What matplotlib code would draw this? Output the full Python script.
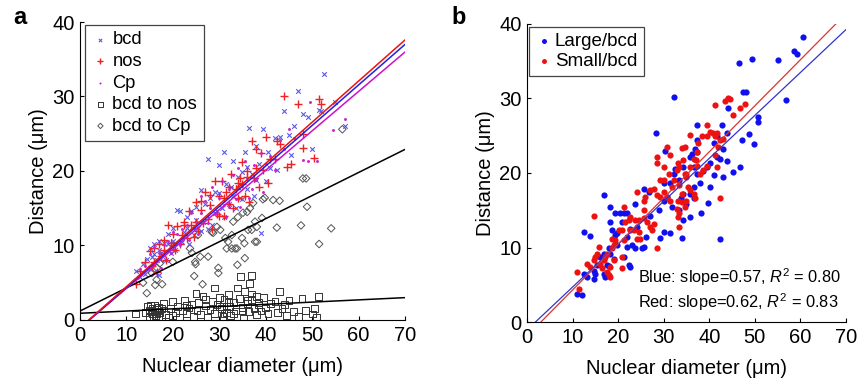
import matplotlib
matplotlib.use('Agg')
import matplotlib.pyplot as plt
import numpy as np

plt.rcParams['font.family'] = ['Liberation Sans', 'DejaVu Sans']
plt.rcParams['mathtext.fontset'] = 'custom'
plt.rcParams['mathtext.it'] = 'Liberation Sans:italic'
plt.rcParams['mathtext.rm'] = 'Liberation Sans'

# ---- panel a data ----
bcd_pts = [(12, 6.6), (13, 5.8), (13.5, 7.5), (14, 6.2), (14.5, 8.2), (15, 9.6), (15, 6.8), (15.5, 8.4),
           (16, 10.2), (16, 6.4), (16.5, 8.0), (17, 6.1), (17, 10.6), (17.5, 9.0), (18, 10.4), (18.5, 8.0),
           (19, 11.6), (19.5, 9.0), (20, 12.4), (20.5, 9.4), (21, 14.8), (21.5, 14.6), (22, 10.5), (22.5, 11.8),
           (23, 12.4), (23.5, 10.2), (24, 14.6), (24.5, 11.4), (25, 15.2), (25.5, 12.4), (26, 17.4), (26.5, 13.2),
           (27, 15.6), (27.5, 12.2), (28, 16.4), (28.5, 12.8), (29, 17.2), (29.5, 14.6), (30, 20.8), (30.5, 15.0),
           (31, 22.6), (31, 13.8), (31.5, 18.2), (32, 15.6), (32.5, 17.8), (33, 21.4), (33.5, 15.0), (34, 19.2),
           (34.5, 16.4), (35, 16.2), (35.5, 22.6), (36, 17.6), (36.5, 25.8), (37, 19.6), (37.5, 16.6), (38, 18.8),
           (38.5, 21.0), (39, 11.7), (39.5, 25.7), (40, 18.6), (40.5, 22.6), (41, 20.4), (42, 24.4), (42.5, 20.2),
           (43, 24.5), (44, 28.1), (45, 24.8), (45.5, 22.2), (46, 26), (47, 30.8), (48, 27.6), (49, 27.2),
           (50, 23), (51.5, 28.2), (52, 28), (52.5, 33), (55, 29.3), (57, 26), (17, 9.4), (16, 8.8), (27.5, 21.6),
           (34, 17.8), (20, 10.6), (29, 14.4), (36, 20.6), (38, 23.4), (33, 16.6), (26, 12.0), (23, 13.8),
           (19, 10.2), (30, 17.0), (25, 13.4), (35, 19.8)]
nos_pts = [(12, 4.8), (13, 6.6), (14, 7.8), (15, 9.2), (15.5, 7.2), (16, 9.6), (16, 7.8), (16.5, 6.4),
           (17, 10.2), (17.5, 8.6), (18, 10.8), (18.5, 8.0), (19, 12.8), (19.5, 10.4), (20, 11.6), (20.5, 9.4),
           (21, 12.6), (21.5, 10.2), (22, 11.4), (22.5, 13.2), (23, 11.0), (23.5, 14.6), (24, 12.8), (24.5, 11.2),
           (25, 15.8), (25.5, 12.0), (26, 14.8), (26.5, 13.0), (27, 17.2), (27.5, 13.6), (28, 15.4), (28.5, 12.2),
           (29, 18.6), (29.5, 14.2), (30, 16.6), (30.5, 18.6), (31, 14.0), (31.5, 17.2), (32, 15.6), (32.5, 19.6),
           (33, 15.0), (33.5, 17.6), (34, 16.4), (34.5, 19.0), (35, 21.2), (35.5, 16.6), (36, 20.0), (36.5, 15.8),
           (37, 24), (37.5, 19.0), (38, 23.0), (38.5, 17.8), (39, 22.4), (39.5, 20.2), (40, 24.6), (40.5, 18.4),
           (41, 21.6), (42, 21.6), (43, 23.6), (44, 30.1), (44.5, 20.5), (45.5, 21), (47, 29), (48, 23.1),
           (48, 25), (50.5, 21.8), (51.5, 29.7), (52, 29), (22.5, 12.8), (36, 19.2), (30, 14.0), (34, 18.4),
           (28, 16.8), (25, 13.2), (20, 10.0), (38, 20.4), (32, 17.8), (35, 18.2), (18, 9.4), (42.5, 24.0),
           (26, 16.0), (31, 16.4)]
cp_pts = [(13, 6.8), (14, 7.2), (15, 8.8), (15.5, 7.4), (16, 9.8), (16.5, 8.0), (17, 9.0), (17.5, 7.0),
          (18, 10.0), (19, 10.6), (19.5, 9.0), (20, 11.8), (21, 11.6), (21.5, 10.0), (22, 12.2), (23, 12.8),
          (23.5, 10.8), (24, 14.4), (24.5, 12.4), (25, 13.2), (25.5, 11.6), (26, 14.4), (27, 16.0), (27.5, 13.0),
          (28, 15.0), (28.5, 17.8), (29, 14.2), (30, 16.4), (30.5, 18.6), (31, 15.4), (31.5, 13.8), (32, 17.6),
          (33, 19.4), (33.5, 16.2), (34, 20.4), (34.5, 15.2), (35, 18.0), (35.5, 21.4), (36, 19.0), (36.5, 16.4),
          (37, 17.6), (37.5, 20.8), (38, 18.8), (39, 22.4), (39.5, 17.2), (40, 21.0), (41, 22.0), (42, 20.2),
          (43, 24.2), (44, 23.0), (45, 25.6), (46, 24.4), (48, 21.5), (49, 21.4), (49.5, 29.3), (51, 21.3),
          (54.5, 25.5), (57, 27), (26, 16.6), (32, 15.2)]
bcd_nos_pts = [(14, 1.0), (14.5, 1.8), (15, 0.5), (15, 1.3), (15.2, 2.0), (15.5, 0.9), (15.5, 1.6),
               (15.8, 0.3), (16, 1.1), (16, 1.9), (16.2, 0.6), (16.5, 1.4), (16.5, 0.8), (16.8, 1.2),
               (17, 1.7), (17, 0.4), (17.2, 1.0), (17.5, 1.5), (18, 2.2), (18.5, 0.7),
               (12, 0.8), (19, 0.4), (19.5, 1.5), (20, 2.5), (20.5, 1.0), (21, 1.8), (21.5, 0.3), (22, 1.2),
               (22.5, 2.6), (23, 0.9), (23.5, 1.6), (24, 2.1), (24.5, 0.5), (25, 3.6), (25.2, 1.3),
               (25.5, 2.3), (26, 0.7), (26.5, 3.2), (27, 1.9), (27.5, 0.4), (28, 1.4), (28.5, 2.5),
               (29, 0.9), (29.5, 2.1), (30, 3.0), (30.5, 1.5), (30.8, 0.5), (31, 2.7), (31.5, 1.0),
               (32, 3.4), (32.3, 1.8), (32.5, 0.6), (33, 2.3), (33.5, 1.2), (34, 4.3), (34.3, 2.9),
               (34.5, 5.8), (35, 1.7), (35.2, 0.2), (35.5, 3.8), (36, 2.2), (36.3, 1.1), (36.5, 4.9),
               (37, 6.0), (37, 2.8), (37.5, 1.5), (38, 3.1), (38, 0.7), (38.5, 2.0), (39, 1.2), (39.5, 3.0),
               (40, 1.6), (40.5, 0.9), (41, 2.2), (42, 2.5), (42.5, 1.0), (43, 3.8), (43.5, 1.5), (44, 2.1),
               (44.5, 0.6), (45, 2.6), (46, 1.1), (47, 0.5), (47.8, 2.9), (48.5, 1.3), (50, 0.8), (50.5, 1.5),
               (51.3, 3.2), (51, 0.4), (29, 4.3), (30, 1.8), (32, 2.4), (33, 0.9), (36, 2.6), (37, 3.5),
               (38.5, 2.4), (20, 0.6), (23, 1.9), (27, 2.8), (31, 0.9), (35, 1.2)]
bcd_cp_pts = [(56.5, 25.6), (48.0, 19.0), (48.7, 19.0), (48.9, 15.2), (47.6, 12.7), (54.1, 12.3),
              (51.5, 10.2), (42.4, 12.4), (41.6, 16.1), (43.0, 16.0), (39.4, 16.2), (39.2, 13.7),
              (37.7, 13.2), (37.0, 12.1), (37.7, 10.5), (35.4, 10.3), (35.5, 8.3), (33.9, 7.4), (33.4, 9.6),
              (31.6, 9.6), (31.3, 11.0), (30.2, 12.1), (28.7, 11.7), (29.8, 7.0), (29.8, 6.3), (24.8, 7.8),
              (24.6, 5.9), (26.4, 4.8), (24.9, 7.5), (25.9, 8.5), (27.6, 8.5), (23.7, 9.6), (24.1, 9.0),
              (36.0, 14.5), (36.2, 12.1), (37.3, 15.7), (20.0, 7.8), (14.4, 3.6), (16.2, 4.7), (17.7, 4.8),
              (15.5, 6.3), (16.6, 7.0), (17.2, 7.6), (16.5, 5.4), (13.6, 5.0), (17.9, 8.3), (32.7, 9.6),
              (33.8, 9.6), (38.1, 10.5), (31.9, 10.5), (38.1, 12.5), (32.7, 11.4), (34.9, 11.0), (33.0, 13.2),
              (34.0, 13.8), (35.1, 14.4), (39.8, 16.4), (36.6, 15.0), (28.4, 11.8), (29.5, 12.5), (25.4, 11.4)]

# linear fits shown in panel a: (slope, intercept)
fit_bcd = (0.544, -1.09)
fit_nos = (0.552, -1.05)
fit_cp = (0.529, -1.06)
fit_bcd_cp = (0.310, 1.2)
fit_bcd_nos = (0.030, 0.9)

# ---- panel b data ----
large_pts = [(60.6, 38.2), (58.7, 36.3), (59.2, 35.9), (55.2, 35.2), (49.5, 35.3), (46.6, 34.8), (47.5, 30.9),
             (48.1, 30.9), (56.8, 29.8), (32.2, 30.2), (44.2, 28.7), (50.6, 27.5), (50.8, 26.9), (48.8, 25.2),
             (49.8, 23.9), (47.1, 24.4), (42.7, 26.4), (37.3, 26.4), (28.4, 25.4), (45.2, 20.2), (46.8, 20.8),
             (43.1, 19.5), (43.8, 21.6), (41.0, 19.7), (39.8, 16.0), (38.1, 14.6), (35.8, 14.1), (34.1, 11.3),
             (42.3, 11.1), (30.0, 12.1), (29.2, 11.3), (16.8, 17.0), (18.3, 15.4), (12.4, 12.1), (13.9, 11.6),
             (11.0, 3.8), (12.1, 3.7), (12.4, 6.4), (13.2, 6.1), (14.8, 5.8), (15.0, 6.5), (17.9, 7.5),
             (19.0, 8.5), (18.1, 9.9), (18.3, 9.2), (21.2, 8.7), (22.7, 7.4), (22.3, 7.6), (23.7, 9.9),
             (25.2, 9.9), (26.2, 11.4), (25.6, 10.1), (21.9, 11.4), (22.7, 12.5), (20.8, 13.4), (20.5, 14.6),
             (21.2, 14.6), (21.9, 14.6), (23.7, 15.8), (25.6, 17.9), (26.7, 17.5), (18.6, 12.3), (18.3, 13.4),
             (19.4, 11.7), (24.1, 12.8), (27.0, 14.3), (28.9, 15.0), (30.0, 16.3), (30.7, 16.8), (30.3, 22.9),
             (32.5, 20.6), (34.3, 20.8), (35.7, 22.2), (36.2, 22.6), (36.9, 23.2), (37.3, 22.8), (36.6, 20.8),
             (37.3, 19.9), (38.7, 20.3), (38.0, 18.7), (36.6, 18.1), (35.8, 17.2), (36.6, 16.6), (34.3, 17.2),
             (33.9, 16.6), (35.0, 15.9), (33.3, 19.0), (31.4, 18.6), (32.2, 19.9), (30.0, 18.6), (31.8, 15.5),
             (33.3, 15.0), (39.5, 20.8), (40.2, 21.3), (41.8, 22.2), (42.4, 21.9), (41.0, 24.0), (40.2, 18.1),
             (37.3, 24.4), (41.8, 24.9), (43.1, 23.2), (43.8, 25.3), (34.3, 13.7), (31.4, 11.9), (16.8, 6.5),
             (17.2, 6.1), (17.5, 7.6), (16.1, 8.7), (16.8, 9.2), (15.3, 7.6), (14.6, 6.9), (19.7, 10.3),
             (21.9, 10.1), (23.0, 10.3), (19.7, 11.9), (19.4, 14.6)]
small_pts = [(11.0, 6.7), (11.4, 4.5), (14.6, 14.3), (13.2, 7.8), (13.9, 7.4), (14.6, 8.3), (15.3, 9.2),
             (15.7, 10.1), (15.0, 8.7), (16.1, 7.8), (16.4, 7.2), (16.8, 8.3), (17.2, 8.7), (17.5, 6.7),
             (17.9, 6.3), (18.3, 7.4), (17.5, 9.2), (18.6, 9.9), (19.0, 10.3), (19.4, 11.0), (18.6, 11.2),
             (20.8, 7.2), (20.8, 8.7), (21.2, 11.0), (20.1, 12.3), (20.8, 12.3), (21.2, 15.4), (21.6, 13.4),
             (22.3, 13.7), (22.7, 14.1), (23.4, 12.3), (24.1, 11.2), (24.8, 11.2), (24.5, 12.1), (23.7, 13.7),
             (24.5, 13.7), (25.6, 13.9), (26.3, 13.4), (27.0, 12.8), (27.8, 13.2), (27.4, 12.3), (28.5, 9.9),
             (25.6, 16.3), (26.0, 16.8), (24.1, 17.5), (27.0, 17.7), (27.8, 17.9), (28.5, 17.0), (29.2, 16.8),
             (28.5, 22.2), (28.5, 21.3), (29.2, 19.0), (30.0, 19.0), (30.0, 17.5), (30.7, 16.8), (31.4, 16.3),
             (31.8, 18.1), (32.2, 19.0), (30.7, 23.5), (31.1, 19.9), (33.1, 21.3), (33.4, 20.8), (32.9, 20.4),
             (34.0, 23.3), (34.3, 21.7), (34.7, 19.9), (35.0, 19.5), (33.4, 18.4), (34.0, 17.2), (33.1, 16.3),
             (34.0, 16.1), (34.7, 15.5), (32.9, 15.2), (33.4, 14.6), (33.1, 14.1), (33.4, 12.8), (35.0, 16.3),
             (35.4, 18.1), (35.8, 17.7), (36.6, 21.9), (37.0, 21.7), (37.3, 21.0), (37.3, 22.8), (37.6, 24.0),
             (38.4, 24.9), (35.8, 25.1), (39.5, 24.9), (40.2, 25.5), (40.9, 25.3), (39.5, 26.4), (41.3, 24.9),
             (41.7, 25.3), (42.4, 24.4), (42.0, 23.5), (41.3, 22.4), (41.7, 20.8), (42.4, 16.6), (43.1, 24.6),
             (41.3, 29.1), (43.5, 29.6), (44.2, 30.0), (44.6, 29.9), (45.3, 27.8), (46.8, 28.7), (47.9, 29.3),
             (38.7, 20.4), (39.5, 21.0), (38.0, 19.9), (36.6, 17.2), (36.9, 16.6), (31.4, 22.4), (35.0, 19.9),
             (19.0, 8.3), (18.3, 6.0), (22.7, 12.3), (25.6, 15.0), (30.0, 20.8), (34.7, 23.5), (35.8, 20.8)]

fit_large = (0.575, -1.04)
fit_small = (0.617, -1.85)
stats_text = ['Blue: slope=0.57, $R^2$ = 0.80', 'Red: slope=0.62, $R^2$ = 0.83']

fig = plt.figure(figsize=(8.57, 3.84), dpi=100)
ax1 = fig.add_axes([0.0933, 0.1667, 0.3793, 0.776])
ax2 = fig.add_axes([0.615, 0.161, 0.372, 0.777])


def style_axes(ax):
    ax.set_xlim(0, 70)
    ax.set_ylim(0, 40)
    ax.set_xticks(range(0, 71, 10))
    ax.set_yticks(range(0, 41, 10))
    for s in ['top', 'right']:
        ax.spines[s].set_visible(False)
    ax.tick_params(direction='in', length=3, labelsize=14.5, width=0.8, pad=4)
    ax.set_xlabel('Nuclear diameter (μm)', fontsize=14.5, labelpad=9)
    ax.set_ylabel('Distance (μm)', fontsize=14.5, labelpad=3)


xx = np.linspace(0, 70, 200)

# panel a
p = np.array(bcd_pts)
ax1.scatter(p[:, 0], p[:, 1], marker='x', s=11, color='#5a5aee', linewidths=0.8, label='bcd', zorder=3)
p = np.array(nos_pts)
ax1.scatter(p[:, 0], p[:, 1], marker='+', s=30, color='#ee2222', linewidths=1.0, label='nos', zorder=3)
p = np.array(cp_pts)
ax1.scatter(p[:, 0], p[:, 1], marker='.', s=18, color='#cc22cc', linewidths=0, label='Cp', zorder=3)
p = np.array(bcd_nos_pts)
ax1.scatter(p[:, 0], p[:, 1], marker='s', s=24, facecolors='none', edgecolors='#333333',
            linewidths=0.7, label='bcd to nos', zorder=2)
p = np.array(bcd_cp_pts)
ax1.scatter(p[:, 0], p[:, 1], marker='D', s=15, facecolors='none', edgecolors='#555555',
            linewidths=0.7, label='bcd to Cp', zorder=2)

for (m, b), c in [(fit_bcd_nos, 'black'), (fit_bcd_cp, 'black'), (fit_cp, '#cc11cc'),
                  (fit_bcd, '#2222dd'), (fit_nos, '#ee1111')]:
    ax1.plot(xx, m * xx + b, color=c, lw=1.1, zorder=4)

style_axes(ax1)
leg = ax1.legend(loc='upper left', bbox_to_anchor=(0.015, 0.99), borderaxespad=0, fontsize=13.2,
                 markerscale=0.7, handletextpad=0.15, handlelength=1.0, borderpad=0.35, labelspacing=0.25,
                 fancybox=False, edgecolor='#444444', framealpha=1)
leg.get_frame().set_linewidth(0.9)
fig.text(0.016, 0.955, 'a', fontsize=17, fontweight='bold', va='center')

# panel b
p = np.array(large_pts)
ax2.scatter(p[:, 0], p[:, 1], marker='o', s=20, color='#1010ee', linewidths=0, label='Large/bcd', zorder=3)
p = np.array(small_pts)
ax2.scatter(p[:, 0], p[:, 1], marker='o', s=20, color='#ee1111', linewidths=0, label='Small/bcd', zorder=3)
ax2.plot(xx, fit_large[0] * xx + fit_large[1], color='#3333cc', lw=0.9, zorder=4)
ax2.plot(xx, fit_small[0] * xx + fit_small[1], color='#dd3333', lw=0.9, zorder=4)
style_axes(ax2)
leg2 = ax2.legend(loc='upper left', bbox_to_anchor=(0.005, 0.99), borderaxespad=0, fontsize=13.5,
                  markerscale=0.8, handletextpad=0.1, handlelength=1.0, borderpad=0.3, labelspacing=0.2,
                  fancybox=False, edgecolor='#444444', framealpha=1)
leg2.get_frame().set_linewidth(0.9)
ax2.text(0.348, 0.152, stats_text[0], transform=ax2.transAxes, fontsize=11.8, va='center')
ax2.text(0.348, 0.068, stats_text[1], transform=ax2.transAxes, fontsize=11.8, va='center')
fig.text(0.527, 0.955, 'b', fontsize=17, fontweight='bold', va='center')

fig.savefig('out.png', dpi=100)
